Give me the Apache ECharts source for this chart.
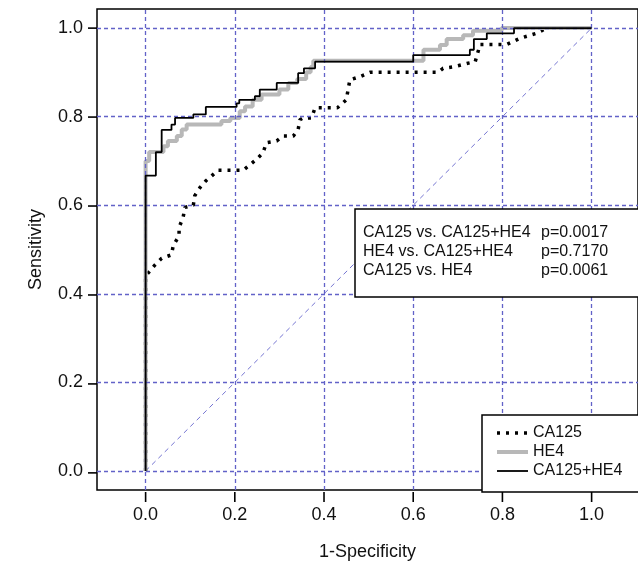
<!DOCTYPE html>
<html>
<head>
<meta charset="utf-8">
<script src="https://cdn.jsdelivr.net/npm/echarts@6/dist/echarts.min.js"></script>
<style>
  html, body { margin: 0; padding: 0; background: #fff; }
  #chart { width: 638px; height: 566px; }
</style>
</head>
<body>
<div id="chart"></div>
<script>
// ROC curves: false positive rate (1-specificity) vs sensitivity
const tickValues = [0, 0.2, 0.4, 0.6, 0.8, 1.0];
const X_MIN = -0.109, X_MAX = 1.104;
const Y_MIN = -0.043, Y_MAX = 1.043;

const ca125Fpr = [0, 0, 0.01, 0.02, 0.036, 0.058, 0.062, 0.075, 0.075, 0.084, 0.088, 0.107, 0.11, 0.122, 0.135, 0.148, 0.162, 0.219, 0.248, 0.263, 0.271, 0.294, 0.308, 0.331, 0.342, 0.346, 0.353, 0.372, 0.38, 0.43, 0.45, 0.454, 0.458, 0.48, 0.503, 0.656, 0.667, 0.693, 0.72, 0.739, 0.75, 0.81, 0.84, 0.876, 0.9, 1.0];
const ca125Tpr = [0, 0.44, 0.452, 0.464, 0.48, 0.488, 0.509, 0.531, 0.55, 0.572, 0.595, 0.6, 0.621, 0.64, 0.655, 0.666, 0.679, 0.679, 0.703, 0.718, 0.741, 0.745, 0.756, 0.756, 0.771, 0.793, 0.797, 0.797, 0.82, 0.82, 0.838, 0.861, 0.883, 0.89, 0.9, 0.9, 0.909, 0.913, 0.92, 0.924, 0.963, 0.963, 0.977, 0.988, 1.0, 1.0];

const he4Fpr = [0, 0, 0.008, 0.008, 0.04, 0.04, 0.05, 0.05, 0.07, 0.07, 0.081, 0.081, 0.092, 0.092, 0.17, 0.17, 0.19, 0.19, 0.211, 0.211, 0.223, 0.223, 0.24, 0.24, 0.26, 0.26, 0.3, 0.3, 0.32, 0.32, 0.34, 0.34, 0.36, 0.36, 0.37, 0.37, 0.376, 0.376, 0.623, 0.623, 0.66, 0.66, 0.675, 0.675, 0.712, 0.712, 0.734, 0.734, 0.798, 0.798, 1.0];
const he4Tpr = [0, 0.70, 0.70, 0.72, 0.72, 0.733, 0.733, 0.745, 0.745, 0.756, 0.756, 0.771, 0.771, 0.782, 0.782, 0.79, 0.79, 0.797, 0.797, 0.812, 0.812, 0.823, 0.823, 0.838, 0.838, 0.85, 0.85, 0.861, 0.861, 0.876, 0.876, 0.885, 0.885, 0.9, 0.9, 0.912, 0.912, 0.926, 0.926, 0.951, 0.951, 0.962, 0.962, 0.975, 0.975, 0.984, 0.984, 0.994, 0.994, 1.0, 1.0];

const comboFpr = [0, 0, 0.023, 0.023, 0.036, 0.036, 0.058, 0.058, 0.066, 0.066, 0.107, 0.107, 0.135, 0.135, 0.204, 0.204, 0.21, 0.21, 0.245, 0.245, 0.256, 0.256, 0.294, 0.294, 0.342, 0.342, 0.355, 0.355, 0.38, 0.38, 0.6, 0.6, 0.727, 0.727, 0.736, 0.736, 0.765, 0.765, 0.826, 0.826, 1.0];
const comboTpr = [0, 0.667, 0.667, 0.72, 0.72, 0.77, 0.77, 0.782, 0.782, 0.797, 0.797, 0.805, 0.805, 0.822, 0.822, 0.83, 0.83, 0.838, 0.838, 0.846, 0.846, 0.861, 0.861, 0.876, 0.876, 0.898, 0.898, 0.909, 0.909, 0.924, 0.924, 0.939, 0.939, 0.951, 0.951, 0.975, 0.975, 0.988, 0.988, 1.0, 1.0];

const chanceX = [0, 1];
const chanceY = [0, 1];

const legendNames = ['CA125', 'HE4', 'CA125+HE4'];
const comparisons = ['CA125 vs. CA125+HE4', 'HE4 vs. CA125+HE4', 'CA125 vs. HE4'];
const pValues = ['p=0.0017', 'p=0.7170', 'p=0.0061'];

const zip = (xs, ys) => xs.map((x, i) => [x, ys[i]]);

const FONT = '"Liberation Sans", Arial, sans-serif';
const GRID_COLOR = '#6262c8';
const GRID = { left: 97, top: 9, width: 541, height: 483 };

const chart = echarts.init(document.getElementById('chart'));

const gridLineStyle = { type: [4, 3], color: GRID_COLOR, width: 1.3 };

const legendGraphics = [];
const lx0 = 497, lx1 = 528, ly0 = 433, lstep = 19;
const legendStyles = [
  { stroke: '#000', lineWidth: 3.5, lineDash: [3, 6] },
  { stroke: '#b8b8b8', lineWidth: 4 },
  { stroke: '#000', lineWidth: 1.8 }
];
legendNames.forEach((n, i) => {
  legendGraphics.push({
    type: 'line', z: 101,
    shape: { x1: lx0, y1: ly0 + i * lstep, x2: lx1, y2: ly0 + i * lstep },
    style: legendStyles[i]
  });
  legendGraphics.push({
    type: 'text', z: 101, x: 533, y: ly0 + i * lstep,
    style: { text: n, font: '16px ' + FONT, fill: '#111', verticalAlign: 'middle' }
  });
});

const noteGraphics = [];
comparisons.forEach((c, i) => {
  noteGraphics.push({
    type: 'text', z: 101, x: 363, y: 233 + i * 19,
    style: { text: c, font: '16px ' + FONT, fill: '#111', verticalAlign: 'middle' }
  });
  noteGraphics.push({
    type: 'text', z: 101, x: 541, y: 233 + i * 19,
    style: { text: pValues[i], font: '16px ' + FONT, fill: '#111', verticalAlign: 'middle' }
  });
});

// outward tick marks along the bottom and left edges of the plot box
const tickGraphics = [];
tickValues.forEach(v => {
  const tx = GRID.left + (v - X_MIN) / (X_MAX - X_MIN) * GRID.width;
  const ty = GRID.top + (Y_MAX - v) / (Y_MAX - Y_MIN) * GRID.height;
  const bottom = GRID.top + GRID.height;
  tickGraphics.push({
    type: 'line', z: 102,
    shape: { x1: tx, y1: bottom, x2: tx, y2: bottom + 10 },
    style: { stroke: '#000', lineWidth: 1.6 }
  });
  tickGraphics.push({
    type: 'line', z: 102,
    shape: { x1: GRID.left, y1: ty, x2: GRID.left - 9, y2: ty },
    style: { stroke: '#000', lineWidth: 1.6 }
  });
});

chart.setOption({
  animation: false,
  backgroundColor: '#fff',
  grid: Object.assign({ show: true, borderColor: '#000', borderWidth: 1.5, backgroundColor: 'transparent' }, GRID),
  xAxis: {
    type: 'value', min: X_MIN, max: X_MAX,
    name: '1-Specificity', nameLocation: 'middle', nameGap: 53,
    nameTextStyle: { fontFamily: FONT, fontSize: 18, color: '#111' },
    axisLine: { show: false, onZero: false },
    splitLine: { show: false },
    axisTick: { show: false },
    axisLabel: { customValues: tickValues, margin: 16, formatter: v => v.toFixed(1), fontFamily: FONT, fontSize: 18, color: '#111' }
  },
  yAxis: {
    type: 'value', min: Y_MIN, max: Y_MAX,
    name: 'Sensitivity', nameLocation: 'middle', nameGap: 52,
    nameTextStyle: { fontFamily: FONT, fontSize: 18, color: '#111' },
    axisLine: { show: false, onZero: false },
    splitLine: { show: false },
    axisTick: { show: false },
    axisLabel: { customValues: tickValues, margin: 14, formatter: v => v.toFixed(1), fontFamily: FONT, fontSize: 18, color: '#111' }
  },
  series: [
    {
      name: 'reference', type: 'line', z: 1, silent: true, symbol: 'none',
      data: zip(chanceX, chanceY),
      lineStyle: { type: [5, 4], color: '#7474d2', width: 1 },
      markLine: {
        silent: true, symbol: 'none', label: { show: false },
        lineStyle: gridLineStyle,
        data: tickValues.map(v => ({ xAxis: v })).concat(tickValues.map(v => ({ yAxis: v })))
      }
    },
    {
      name: 'CA125', type: 'line', z: 3, symbol: 'none',
      data: zip(ca125Fpr, ca125Tpr),
      lineStyle: { type: [3, 6], color: '#000', width: 3.5, cap: 'butt' }
    },
    {
      name: 'HE4', type: 'line', z: 4, symbol: 'none',
      data: zip(he4Fpr, he4Tpr),
      lineStyle: { color: '#b8b8b8', width: 4 }
    },
    {
      name: 'CA125+HE4', type: 'line', z: 5, symbol: 'none',
      data: zip(comboFpr, comboTpr),
      lineStyle: { color: '#000', width: 1.8 }
    }
  ],
  graphic: [
    {
      type: 'rect', z: 100,
      shape: { x: 355, y: 209, width: 290, height: 88 },
      style: { fill: '#fff', stroke: '#000', lineWidth: 1.5 }
    },
    {
      type: 'rect', z: 100,
      shape: { x: 482, y: 415, width: 160, height: 77 },
      style: { fill: '#fff', stroke: '#000', lineWidth: 1.5 }
    }
  ].concat(noteGraphics, legendGraphics, tickGraphics)
});
</script>
</body>
</html>
